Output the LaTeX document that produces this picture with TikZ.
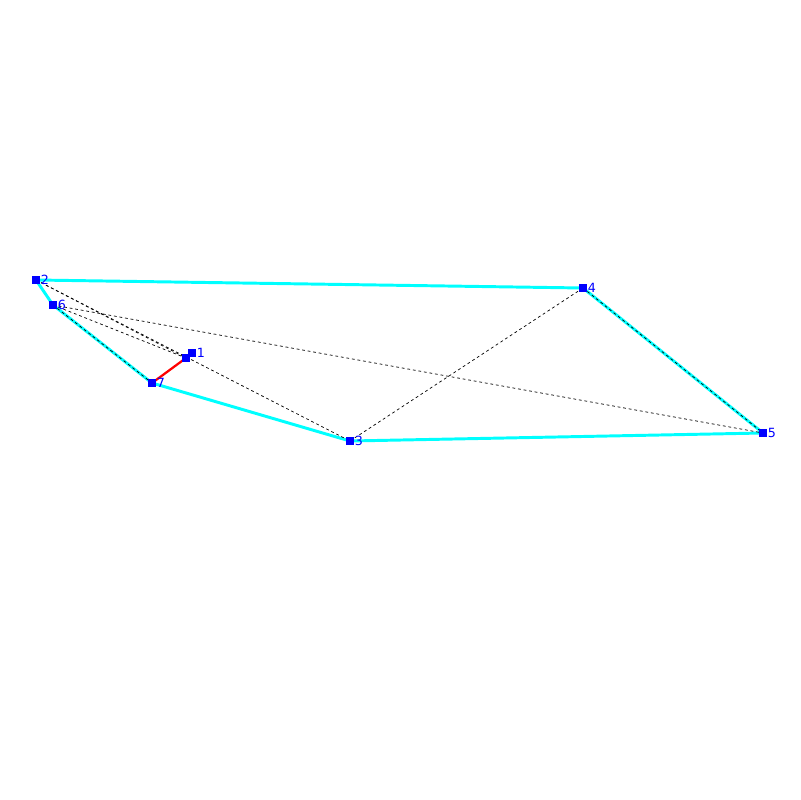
\documentclass[tikz,border=0pt]{standalone}
\usepackage{fontspec}
\setsansfont{DejaVu Sans}
\usepackage{tikz}
\usetikzlibrary{positioning}
\definecolor{aqua}{RGB}{0,255,255}
\definecolor{pureblue}{RGB}{0,0,255}

\begin{document}
\begin{tikzpicture}[
        x=0.025cm, y=-0.025cm,
        font=\sffamily\fontsize{9}{9}\selectfont,
        pt/.style={draw=none, fill=pureblue, rectangle, inner sep=0pt, minimum size=5pt},
        lbl/.style={label={[text=pureblue, inner sep=0.5pt, label distance=0pt]right:#1}},
        hull/.style={draw=aqua, line width=2.1pt},
        link/.style={draw=black, line width=0.5pt, dash pattern=on 2pt off 2pt},
        bond/.style={draw=red, line width=1.6pt}
    ]
        \useasboundingbox (0,0) rectangle (800,800);

        % points
        \coordinate (c2) at (36,280);
        \coordinate (c6) at (53,305);
        \coordinate (c1) at (192,353);
        \coordinate (c1b) at (186,358);
        \coordinate (c7) at (152,383);
        \coordinate (c3) at (350,441);
        \coordinate (c4) at (583,288);
        \coordinate (c5) at (763,433);

        % outline
        \draw[hull] (c2) -- (c4) -- (c5) -- (c3) -- (c7) -- (c6) -- cycle;

        % dashed links
        \draw[link] (c2) -- (c1b);
        \draw[link] (c2) -- (c3);
        \draw[link] (c6) -- (c1b);
        \draw[link] (c6) -- (c5);
        \draw[link] (c6) -- (c7);
        \draw[link] (c3) -- (c4);
        \draw[link] (c4) -- (c5);

        \draw[bond] (c7) -- (c1b);

        % markers
        \node[pt, lbl=2] (p2) at (c2) {};
        \node[pt, lbl=6] (p6) at (c6) {};
        \node[pt, lbl=1] (p1) at (c1) {};
        \node[pt] (p1b) at (c1b) {};
        \node[pt, lbl=7] (p7) at (c7) {};
        \node[pt, lbl=3] (p3) at (c3) {};
        \node[pt, lbl=4] (p4) at (c4) {};
        \node[pt, lbl=5] (p5) at (c5) {};
    \end{tikzpicture}
\end{document}
